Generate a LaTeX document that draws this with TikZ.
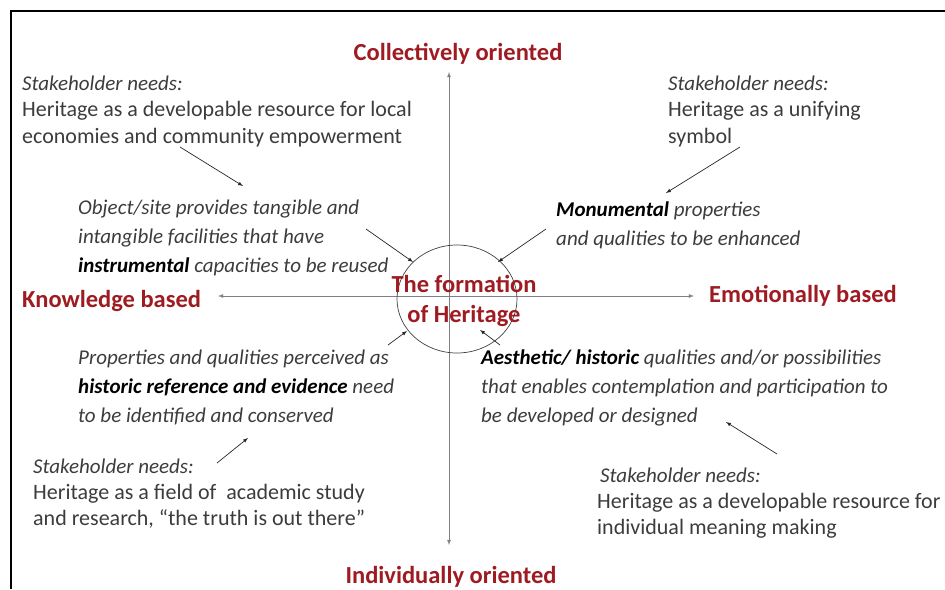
\documentclass[tikz,border=0pt]{standalone}
\usepackage{fontspec}
\setmainfont{Carlito}
\usetikzlibrary{shapes.geometric}
\definecolor{heritagered}{HTML}{9E1B22}
\definecolor{bodygrey}{HTML}{3C3C3C}
\tikzset{
  axislabel/.style={text=heritagered,font=\fontsize{24.5}{30}\selectfont\bfseries,inner sep=0pt},
  needs/.style={text=bodygrey,font=\fontsize{22}{26.5}\selectfont,align=left,inner sep=0pt,anchor=base west},
  quality/.style={needs,font=\fontsize{21}{28.7}\selectfont\itshape},
  axis/.style={draw=black!50,line width=0.8pt,latex-latex},
  pointer/.style={draw=black!85,line width=0.7pt,-latex}
}
\newcommand{\keyword}[1]{{\bfseries\color{black}#1}}
\newcommand{\needshead}{{\fontsize{21}{26.5}\selectfont\itshape Stakeholder needs:}}

\begin{document}
\begin{tikzpicture}[x=1pt,y=-1pt]
\useasboundingbox (0,0) rectangle (945,589);
\draw[line width=2pt] (945,11) -- (11,11) -- (11,589);

\coordinate (north) at (449,72);
\coordinate (south) at (449,545);
\coordinate (west) at (218,296);
\coordinate (east) at (694,296);
\draw[axis] (south) -- (north);
\draw[axis] (west) -- (east);
\node[draw=black!75,line width=0.7pt,ellipse,minimum width=120pt,minimum height=108pt] (hub) at (457,299) {};

\node[axislabel,anchor=base] (collective) at (458,60) {Collectively oriented};
\node[axislabel,anchor=base] (individual) at (451,583) {Individually oriented};
\node[axislabel,anchor=base west] (knowledge) at (22,307) {Knowledge based};
\node[axislabel,anchor=base west] (emotional) at (709,302) {Emotionally based};
\node[axislabel,align=center,anchor=base] (formation) at (464,322) {The formation\\of Heritage};

\node[needs] (needsTL) at (22,143) {\needshead\\Heritage as a developable resource for local\\economies and community empowerment};
\node[needs] (needsTR) at (668,143) {\needshead\\Heritage as a unifying\\symbol};
\node[needs,font=\fontsize{22}{26}\selectfont] (needsBL) at (33,525) {\needshead\\Heritage as a field of \ academic study\\and research, “the truth is out there”};
\node[needs,font=\fontsize{22}{26}\selectfont] (needsBR) at (597,534) {\hspace{3pt}\needshead\\Heritage as a developable resource for\\individual meaning making};

\node[quality] (instrumental) at (78,272) {Object/site provides tangible and\\intangible facilities that have\\\keyword{instrumental} capacities to be reused};
\node[quality] (monumental) at (556,245) {\keyword{Monumental} properties\\and qualities to be enhanced};
\node[quality] (historic) at (78,422) {Properties and qualities perceived as\\\keyword{historic reference and evidence} need\\to be identified and conserved};
\node[quality] (aesthetic) at (481,422) {\keyword{Aesthetic/ historic} qualities and/or possibilities\\that enables contemplation and participation to\\be developed or designed};

\coordinate (a1) at (180,147); \coordinate (b1) at (243,186);
\coordinate (a2) at (366,229); \coordinate (b2) at (413,262);
\coordinate (a3) at (740,147); \coordinate (b3) at (666,193);
\coordinate (a4) at (546,229); \coordinate (b4) at (498,262);
\coordinate (a5) at (388,345); \coordinate (b5) at (407,331);
\coordinate (a6) at (217,463); \coordinate (b6) at (248,438);
\coordinate (a7) at (500,345); \coordinate (b7) at (480,330);
\coordinate (a8) at (777,454); \coordinate (b8) at (726,422);
\foreach \i in {1,...,8}
  \draw[pointer] (a\i) -- (b\i);
\end{tikzpicture}
\end{document}
